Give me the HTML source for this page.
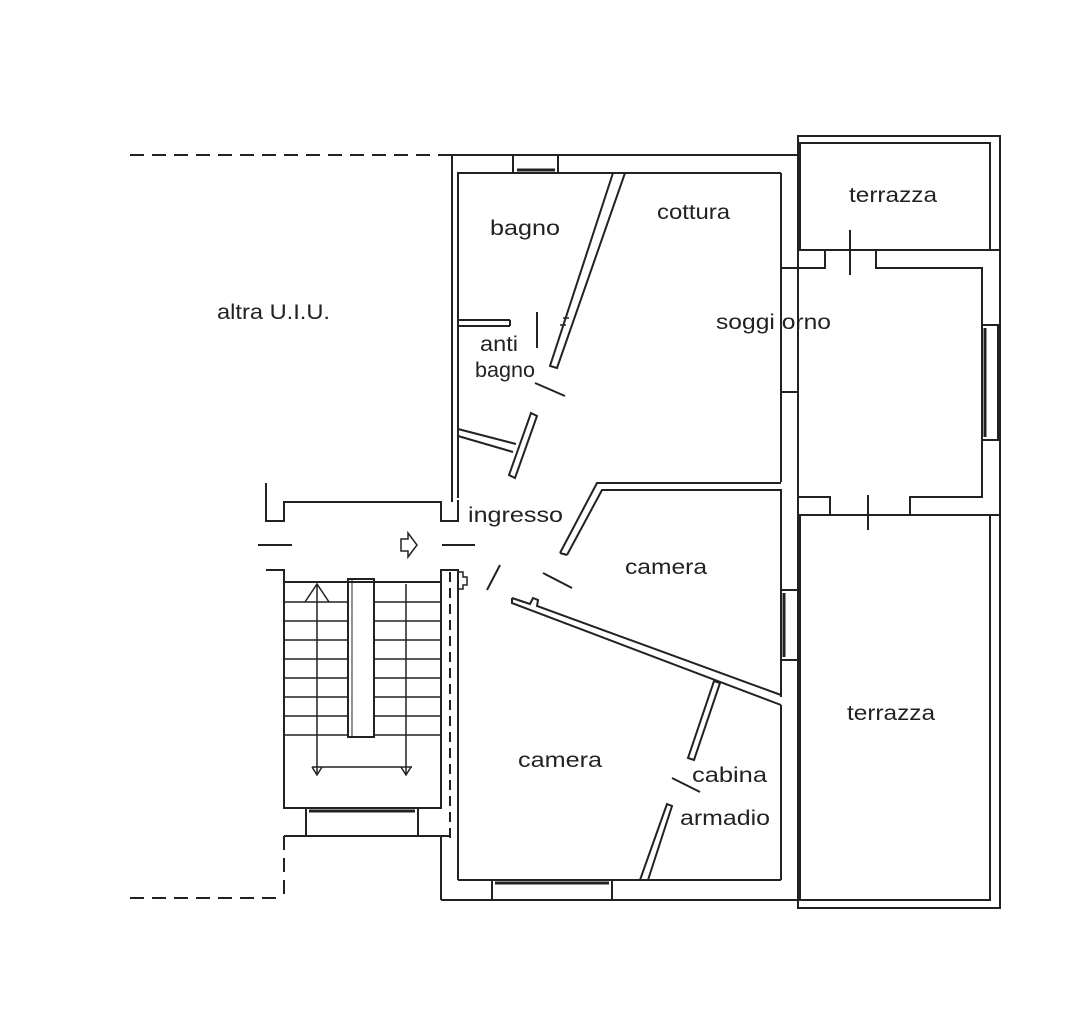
<!DOCTYPE html>
<html><head><meta charset="utf-8"><style>
html,body{margin:0;padding:0;background:#fff;}
svg{display:block;}
text{font-family:"Liberation Sans",sans-serif;font-size:21px;fill:#222;}
</style></head><body>
<svg width="1088" height="1035" viewBox="0 0 1088 1035" xmlns="http://www.w3.org/2000/svg">
<g fill="none" stroke="#222" stroke-width="2">
<line x1="130" y1="155" x2="452" y2="155" stroke-dasharray="14,8"/>
<line x1="130" y1="898" x2="284" y2="898" stroke-dasharray="14,8"/>
<line x1="284" y1="836" x2="284" y2="898" stroke-dasharray="14,8"/>
<line x1="450" y1="572" x2="450" y2="838" stroke-dasharray="10,6"/>
<polyline points="452,502 452,155 798,155"/>
<polyline points="458,498 458,173 613,173"/>
<line x1="625" y1="173" x2="781" y2="173"/>
<rect x="513" y="155" width="45" height="18"/>
<line x1="517" y1="170" x2="555" y2="170" stroke-width="3"/>
<polyline points="266,483 266,521 284,521 284,502 441,502 441,521 458,521 458,500"/>
<line x1="258" y1="545" x2="292" y2="545"/>
<line x1="442" y1="545" x2="475" y2="545"/>
<path d="M401,539 h7 v-6 l9,12 l-9,12 v-6 h-7 z" stroke-width="1.5"/>
<polyline points="266,570 284,570 284,808 441,808 441,570 458,570 458,880"/>
<path d="M458,572 h5 v5 h4 v8 h-4 v4 h-5" stroke-width="1.5"/>
<rect x="306" y="808" width="112" height="28"/>
<line x1="309" y1="811" x2="415" y2="811" stroke-width="3"/>
<line x1="284" y1="836" x2="450" y2="836"/>
<line x1="441" y1="836" x2="441" y2="900"/>
<line x1="284" y1="582" x2="441" y2="582"/>
<g stroke-width="1.5">
<line x1="284" y1="602" x2="348" y2="602"/><line x1="374" y1="602" x2="441" y2="602"/>
<line x1="284" y1="621" x2="348" y2="621"/><line x1="374" y1="621" x2="441" y2="621"/>
<line x1="284" y1="640" x2="348" y2="640"/><line x1="374" y1="640" x2="441" y2="640"/>
<line x1="284" y1="659" x2="348" y2="659"/><line x1="374" y1="659" x2="441" y2="659"/>
<line x1="284" y1="678" x2="348" y2="678"/><line x1="374" y1="678" x2="441" y2="678"/>
<line x1="284" y1="697" x2="348" y2="697"/><line x1="374" y1="697" x2="441" y2="697"/>
<line x1="284" y1="716" x2="348" y2="716"/><line x1="374" y1="716" x2="441" y2="716"/>
<line x1="284" y1="735" x2="348" y2="735"/><line x1="374" y1="735" x2="441" y2="735"/>
<line x1="317" y1="584" x2="317" y2="775"/>
<line x1="406" y1="584" x2="406" y2="775"/>
<line x1="312" y1="767" x2="412" y2="767"/>
<polyline points="305,602 317,584 329,602"/>
<polyline points="312,767 317,775 322,767"/>
<polyline points="401,767 406,775 411,767"/>
</g>
<rect x="348" y="579" width="26" height="158"/>
<line x1="352" y1="580" x2="352" y2="736" stroke-width="1"/>
<line x1="441" y1="900" x2="798" y2="900"/>
<line x1="458" y1="880" x2="640" y2="880"/>
<line x1="648" y1="880" x2="781" y2="880"/>
<rect x="492" y="880" width="120" height="20"/>
<line x1="495" y1="883" x2="609" y2="883" stroke-width="3"/>
<polygon points="613,173 625,173 557,368 550,366"/>
<path d="M563,318 h6 M560,325 h6" stroke-width="1.5"/>
<line x1="458" y1="320" x2="510" y2="320"/>
<line x1="458" y1="326" x2="510" y2="326"/>
<line x1="510" y1="320" x2="510" y2="326"/>
<line x1="537" y1="312" x2="537" y2="348"/>
<line x1="535" y1="383" x2="565" y2="396"/>
<polyline points="458,429 516,444"/>
<polyline points="458,436 513,452"/>
<polygon points="531,413 537,416 515,478 509,475"/>
<line x1="781" y1="173" x2="781" y2="482"/>
<polyline points="781,268 825,268 825,250"/>
<polyline points="876,250 876,268 982,268 982,497 910,497 910,515"/>
<polyline points="781,392 798,392 798,497 830,497 830,515"/>
<rect x="982" y="325" width="16" height="115"/>
<line x1="985" y1="328" x2="985" y2="437" stroke-width="3"/>
<line x1="850" y1="230" x2="850" y2="275"/>
<line x1="868" y1="495" x2="868" y2="530"/>
<rect x="798" y="136" width="202" height="772"/>
<polyline points="800,250 800,143 990,143 990,250"/>
<line x1="798" y1="250" x2="1000" y2="250"/>
<line x1="798" y1="515" x2="1000" y2="515"/>
<polyline points="800,515 800,900 990,900 990,515"/>
<polyline points="560,553 597,483 781,483"/>
<polyline points="567,555 602,490 781,490 781,697"/>
<line x1="560" y1="553" x2="567" y2="555"/>
<rect x="781" y="590" width="17" height="70"/>
<line x1="784" y1="593" x2="784" y2="657" stroke-width="3"/>
<line x1="487" y1="590" x2="500" y2="565"/>
<line x1="543" y1="573" x2="572" y2="588"/>
<polyline points="512,598 530,604 533,598 538,600 537,606 781,695"/>
<polyline points="512,598 512,603 781,705"/>
<line x1="781" y1="705" x2="781" y2="880"/>
<polygon points="714,681 720,683 694,760 688,758"/>
<line x1="672" y1="778" x2="700" y2="792"/>
<polygon points="667,804 672,806 648,880 640,880"/>
</g>
<text x="490" y="235" textLength="70" lengthAdjust="spacingAndGlyphs">bagno</text>
<text x="657" y="219" textLength="73" lengthAdjust="spacingAndGlyphs">cottura</text>
<text x="217" y="319" textLength="113" lengthAdjust="spacingAndGlyphs">altra U.I.U.</text>
<text x="716" y="329" textLength="115" lengthAdjust="spacingAndGlyphs">soggi orno</text>
<text x="480" y="351" textLength="38" lengthAdjust="spacingAndGlyphs">anti</text>
<text x="475" y="377" textLength="60" lengthAdjust="spacingAndGlyphs">bagno</text>
<text x="468" y="522" textLength="95" lengthAdjust="spacingAndGlyphs">ingresso</text>
<text x="625" y="574" textLength="82" lengthAdjust="spacingAndGlyphs">camera</text>
<text x="518" y="767" textLength="84" lengthAdjust="spacingAndGlyphs">camera</text>
<text x="692" y="782" textLength="75" lengthAdjust="spacingAndGlyphs">cabina</text>
<text x="680" y="825" textLength="90" lengthAdjust="spacingAndGlyphs">armadio</text>
<text x="849" y="202" textLength="88" lengthAdjust="spacingAndGlyphs">terrazza</text>
<text x="847" y="720" textLength="88" lengthAdjust="spacingAndGlyphs">terrazza</text>
</svg>
</body></html>
